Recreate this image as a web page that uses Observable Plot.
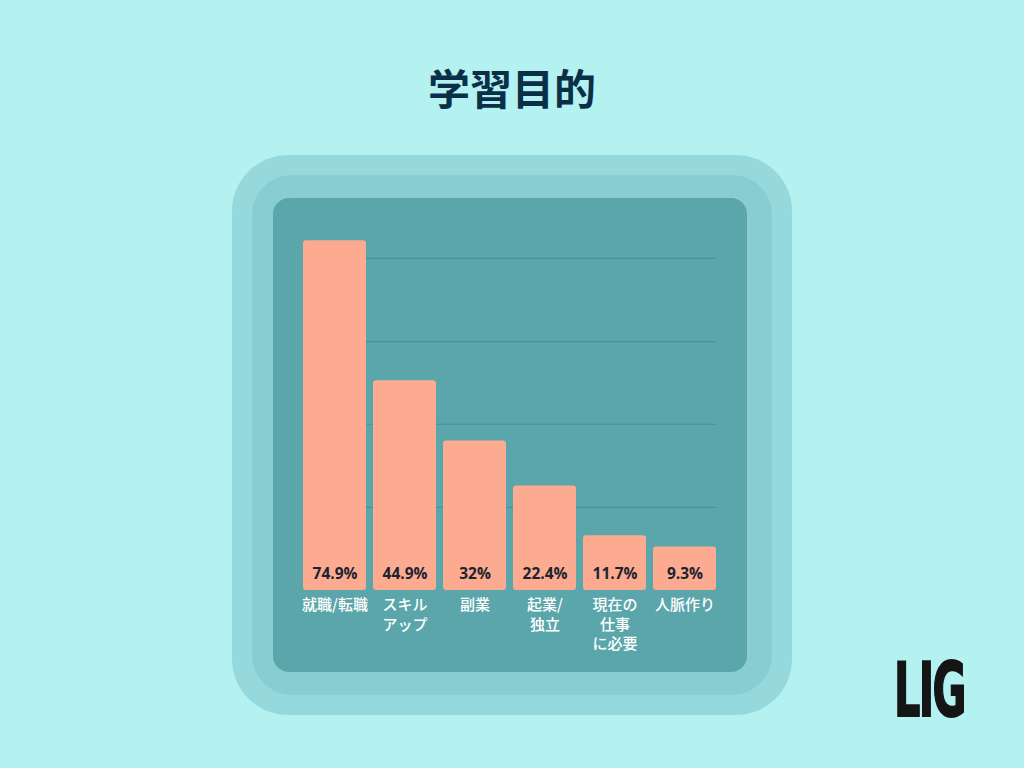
<!DOCTYPE html>
<html>
<head>
<meta charset="utf-8">
<script src="https://cdn.jsdelivr.net/npm/d3@7"></script>
<script src="https://cdn.jsdelivr.net/npm/@observablehq/plot@0.6"></script>
<style>
  html, body { margin: 0; padding: 0; }
  body { width: 1024px; height: 768px; background: #b4f1f1; position: relative; overflow: hidden; font-family: "Noto Sans CJK JP", "Noto Sans", sans-serif; }
  .frame { position: absolute; }
  #f1 { left: 232px; top: 155px; width: 560px; height: 560px; border-radius: 56px; background: #96d9dd; }
  #f2 { left: 252px; top: 175px; width: 520px; height: 520px; border-radius: 40px; background: #88cdd1; }
  #f3 { left: 273px; top: 198px; width: 474px; height: 474px; border-radius: 16px; background: #5ba6aa; }
  #title { position: absolute; left: 0; width: 1024px; top: 60px; text-align: center; font-size: 42px; line-height: 54px; font-weight: 700; color: #0b2f47; }
  #chart { position: absolute; left: 0; top: 0; }
  #logo { position: absolute; left: 894px; top: 651px; font-family: "DejaVu Sans", sans-serif; font-weight: 900; font-size: 74px; line-height: 78px; color: #151515; transform: scaleX(0.56); transform-origin: left top; letter-spacing: -3px; -webkit-text-stroke: 2px #151515; }
</style>
</head>
<body>
<div class="frame" id="f1"></div>
<div class="frame" id="f2"></div>
<div class="frame" id="f3"></div>
<div id="title">学習目的</div>
<div id="chart"></div>
<div id="logo">LIG</div>
<script>
const categories = ["就職/転職", "スキル\nアップ", "副業", "起業/\n独立", "現在の\n仕事\nに必要", "人脈作り"];
const values = [74.9, 44.9, 32, 22.4, 11.7, 9.3];
const valueLabels = ["74.9%", "44.9%", "32%", "22.4%", "11.7%", "9.3%"];
const gridTicks = [17.8, 35.6, 53.3, 71.1];

const data = categories.map((c, i) => ({cat: c, value: values[i], label: valueLabels[i]}));

const chart = Plot.plot({
  width: 1024,
  height: 768,
  marginLeft: 299.5,
  marginRight: 304.5,
  marginTop: 216.4,
  marginBottom: 178,
  style: {background: "transparent", overflow: "visible"},
  x: {domain: categories, paddingInner: 0.1, paddingOuter: 0.05, axis: null},
  y: {domain: [0, 80], axis: null},
  marks: [
    Plot.ruleY(gridTicks, {stroke: "#4a9296", strokeWidth: 1.2, insetLeft: 3.5, insetRight: 3.5}),
    Plot.barY(data, {x: "cat", y: "value", fill: "#fcab91", rx: 3}),
    Plot.text(data, {x: "cat", y: 0, text: "label", dy: -16, fill: "#1d2430", fontSize: 15.5, fontWeight: 700, fontFamily: "Open Sans, Lato, sans-serif"}),
    Plot.text(data, {x: "cat", y: 0, text: "cat", dy: 6, lineAnchor: "top", lineHeight: 1.3, fill: "#ffffff", fontSize: 15, fontWeight: 500, fontFamily: "Noto Sans CJK JP, sans-serif"})
  ]
});
document.getElementById("chart").appendChild(chart);
</script>
</body>
</html>
